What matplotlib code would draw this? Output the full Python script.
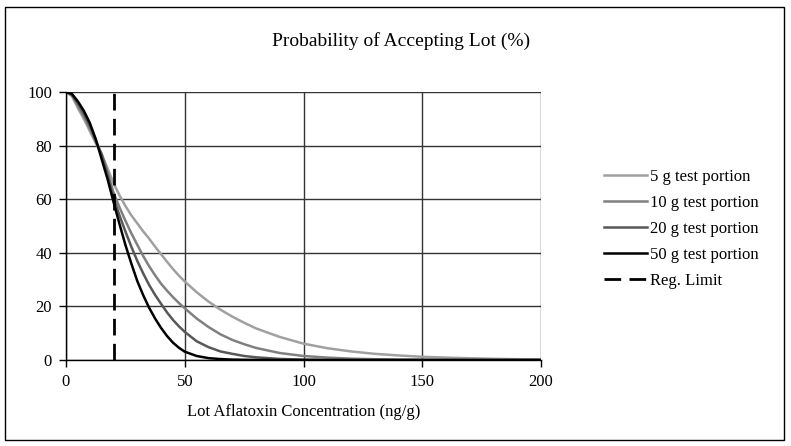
import matplotlib.pyplot as plt
from matplotlib.patches import Rectangle

# Lot concentration (ng/g) and probability of acceptance (%)
conc = [0, 2.5, 5, 7.5, 10, 12.5, 15, 17.5, 20, 22.5, 25, 27.5, 30, 32.5, 35, 37.5, 40, 42.5,
        45, 47.5, 50, 55, 60, 65, 70, 75, 80, 90, 100, 110, 120, 130, 140, 150, 160, 170,
        180, 190, 200]
p_5g = [100, 98.5, 94, 90, 85.5, 81, 76.8, 71.5, 66, 61.5, 57.5, 54, 51, 48, 45.3, 42.3,
        39.5, 36.7, 34, 31.5, 29.3, 25.3, 21.8, 18.8, 16.2, 13.9, 11.8, 8.6, 6.1, 4.4, 3.2,
        2.3, 1.7, 1.2, 0.9, 0.65, 0.45, 0.3, 0.2]
p_10g = [100, 98.8, 95, 91, 86.5, 81.5, 77, 70, 62.5, 57, 52, 47.3, 43, 38.8, 35, 31.6,
         28.5, 25.9, 23.5, 21.3, 19.3, 15.5, 12.3, 9.6, 7.5, 5.9, 4.5, 2.6, 1.5, 0.9, 0.5,
         0.3, 0.15, 0.1, 0.05, 0.02, 0, 0, 0]
p_20g = [100, 99, 95.8, 92, 87.5, 82, 76.5, 69, 60.5, 54, 48, 42.3, 37, 32.3, 28, 24.3,
         21, 17.8, 15, 12.6, 10.5, 7, 4.8, 3.2, 2.3, 1.5, 1, 0.4, 0.15, 0.05, 0.02, 0, 0,
         0, 0, 0, 0, 0, 0]
p_50g = [100, 99.3, 96.5, 93, 88.5, 82.5, 75, 67.5, 59, 50.8, 43, 36, 29.5, 24.2, 19.5,
         15.5, 12, 9, 6.5, 4.6, 3.1, 1.5, 0.7, 0.35, 0.15, 0.08, 0.04, 0, 0, 0, 0, 0, 0, 0,
         0, 0, 0, 0, 0]
reg_limit = 20

series = [
    ('5 g test portion', p_5g, '#a0a0a0'),
    ('10 g test portion', p_10g, '#808080'),
    ('20 g test portion', p_20g, '#585858'),
    ('50 g test portion', p_50g, '#000000'),
]

plt.rcParams['font.family'] = ['Liberation Serif', 'DejaVu Serif']

fig = plt.figure(figsize=(7.91, 4.46), dpi=100)
ax = fig.add_axes([66 / 791, 86 / 446, 475 / 791, 268 / 446])

for label, vals, col in series:
    ax.plot(conc, vals, color=col, lw=1.8, label=label, solid_joinstyle='round')
ax.plot([reg_limit, reg_limit], [0, 100], color='black', lw=2, dashes=(6, 3), label='Reg. Limit')

ax.set_xlim(0, 200)
ax.set_ylim(0, 100)
ax.set_xticks([0, 50, 100, 150, 200])
ax.set_yticks([0, 20, 40, 60, 80, 100])
ax.grid(True, color='#333333', lw=1)
ax.set_axisbelow(True)
for side in ['top', 'right']:
    ax.spines[side].set_visible(False)
for side in ['left', 'bottom']:
    ax.spines[side].set_color('black')
    ax.spines[side].set_linewidth(1)
ax.tick_params(direction='out', length=5, width=1, labelsize=12, colors='black', pad=5)

ax.set_xlabel('Lot Aflatoxin Concentration (ng/g)', fontsize=12, labelpad=10)
fig.text(401 / 791, 0.907, 'Probability of Accepting Lot (%)', ha='center', va='center', fontsize=14)

ax.legend(loc='center left', bbox_to_anchor=(1.10, 0.49), frameon=False, fontsize=12,
          handlelength=2.6, handletextpad=0.2, labelspacing=0.6)

fig.add_artist(Rectangle((5 / 791, 6 / 446), 779 / 791, 433 / 446, transform=fig.transFigure,
                         fill=False, edgecolor='black', lw=1))

fig.savefig('out.png', dpi=100)
